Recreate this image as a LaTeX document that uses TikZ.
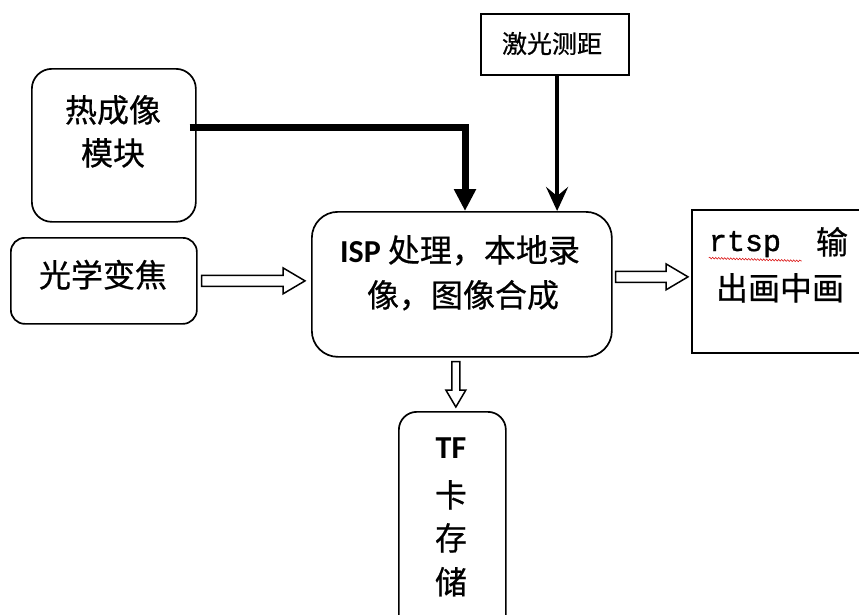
\documentclass[tikz,border=0pt]{standalone}
\usepackage{fontspec}
\newfontfamily\cjk[FakeBold=0.6]{Noto Sans CJK SC}
\newfontfamily\lat{Carlito}
\newfontfamily\mono[FakeBold=1.2]{Liberation Mono}
\usetikzlibrary{arrows.meta,calc,decorations.pathmorphing}
\newcommand\hollowright[2]{\draw[hollow] let \p1=#1, \p2=#2 in
  ({\x1},{\y1+5.5pt}) -- ({\x2-22pt},{\y1+5.5pt}) -- ({\x2-22pt},{\y1+13pt}) -- ({\x2},{\y1})
  -- ({\x2-22pt},{\y1-13pt}) -- ({\x2-22pt},{\y1-5.5pt}) -- ({\x1},{\y1-5.5pt}) -- cycle;}
\newcommand\hollowdown[2]{\draw[hollow] let \p1=#1, \p2=#2 in
  ({\x1-4pt},{\y1}) -- ({\x1-4pt},{\y2+17pt}) -- ({\x1-10pt},{\y2+17pt}) -- ({\x1},{\y2})
  -- ({\x1+10pt},{\y2+17pt}) -- ({\x1+4pt},{\y2+17pt}) -- ({\x1+4pt},{\y1}) -- cycle;}
\begin{document}
\begin{tikzpicture}[x=1pt,y=-1pt,
  box/.style={draw, line width=1.7pt, inner sep=0pt, anchor=north west},
  rbox/.style={box, rounded corners=#1},
  txt/.style={inner sep=0pt, anchor=base, font=\cjk\fontsize{32}{40}\selectfont},
  hollow/.style={draw, line width=1.5pt, fill=white, line join=miter}]
\useasboundingbox[fill=white] (0,0) rectangle (859,614);

% boxes
\node[rbox=20pt, minimum width=164, minimum height=153] (thermal) at (31,68) {};
\node[rbox=14pt, minimum width=186, minimum height=86] (optical) at (10,237) {};
\node[box, line width=2.2pt, minimum width=148, minimum height=61] (laser) at (480,13) {};
\node[rbox=26pt, minimum width=300, minimum height=145] (isp) at (311,211) {};
\node[box, minimum width=190, minimum height=143] (rtsp) at (691,209) {};
\node[rbox=18pt, minimum width=107, minimum height=230] (tf) at (398,411) {};

% texts
\node[txt] (t1) at (113,122) {热成像};
\node[txt] (t2) at (113,165) {模块};
\node[txt] (o1) at (103,287) {光学变焦};
\node[txt, font=\cjk\fontsize{25}{30}\selectfont] (l1) at (552,53) {激光测距};
\node[txt] (i1) at (460,262) {{\lat\bfseries ISP} 处理，本地录};
\node[txt] (i2) at (463,307) {像，图像合成};
\node[txt, font=\mono\fontsize{30}{30}\selectfont] (r1) at (745,251) {rtsp};
\node[txt] (r2) at (832,254) {输};
\node[txt] (r3) at (780,300) {出画中画};
\node[txt, font=\lat\bfseries\fontsize{32}{40}\selectfont] (f1) at (451,458) {TF};
\node[txt] (f2) at (451,507) {卡};
\node[txt] (f3) at (451,550) {存};
\node[txt] (f4) at (451,594) {储};

% spell-check underline
\draw[red!85!black, line width=0.5pt, decorate, decoration={snake, amplitude=0.9pt, segment length=3pt}]
  ([shift={(0,7)}]r1.base west) -- ([shift={(-14,7)}]r2.base west);

% connectors
\draw[line width=7pt, -{Triangle[length=22pt,width=21pt]}]
  ([shift={(-7,59)}]thermal.north east) -| ([xshift=154]isp.north west);
\draw[line width=4.5pt, -{Stealth[length=24pt,width=22pt,inset=9pt]}]
  ([xshift=2]laser.south) -- ([xshift=2]laser.south |- isp.north);
\hollowright{([xshift=4]optical.east)}{([xshift=-6]optical.east -| isp.west)}
\hollowright{([shift={(3,-7.5)}]isp.east)}{([xshift=-3]rtsp.west)}
\hollowdown{([shift={(-6,4)}]isp.south)}{([shift={(3.5,-4)}]tf.north)}
\end{tikzpicture}
\end{document}
